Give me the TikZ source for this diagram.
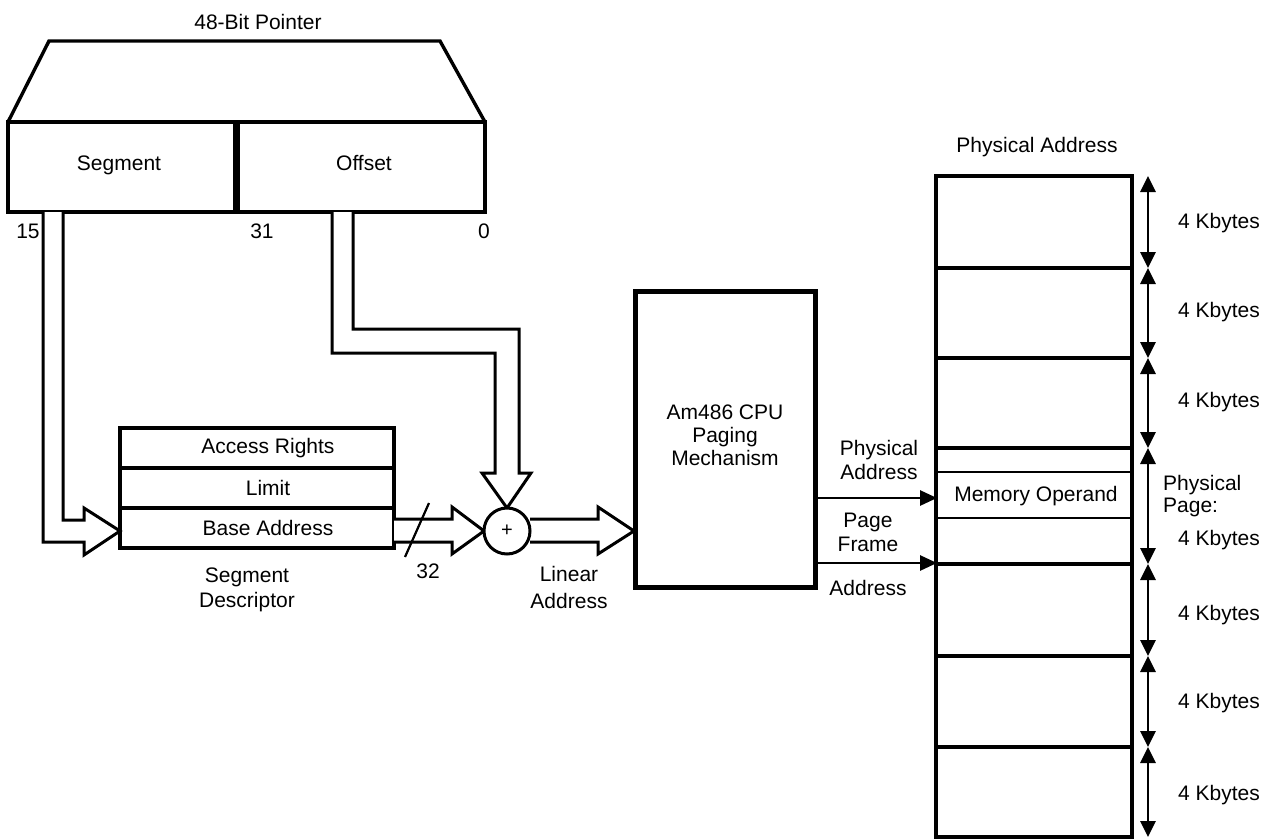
\documentclass[tikz,border=0pt]{standalone}
\usepackage{fontspec}
\setmainfont{Liberation Sans}
\usetikzlibrary{arrows.meta}
\begin{document}
\begin{tikzpicture}[x=1pt,y=-1pt,
  txt/.style={font=\fontsize{21}{24}\selectfont, inner sep=0pt, align=center},
  boxline/.style={draw, line width=3.4pt},
  hollow/.style={draw, fill=white, line width=3pt, line join=miter},
  thinarrow/.style={line width=2.8pt, -{Triangle[length=17pt,width=15pt]}},
  dimarrow/.style={line width=2.8pt, {Triangle[length=16pt,width=15pt]}-{Triangle[length=16pt,width=15pt]}}]
\useasboundingbox (0,0) rectangle (1272,840);

% ---- 48-bit pointer ----
\node[txt] (ptrtitle) at (258,22) {48-Bit Pointer};
\draw[boxline, line join=miter] (8,122) -- (49,41) -- (440,41) -- (485,122);
\draw[boxline] (8,122) rectangle (485,212);
\draw[line width=7pt] (236,122) -- (236,212);
\node[txt, anchor=base] (seg) at (119,171) {Segment};
\node[txt, anchor=base] (off) at (364,171) {Offset};
\node[txt] (b15) at (28,231) {15};
\node[txt] (b31) at (262,231) {31};
\node[txt] (b0) at (484,231) {0};

% ---- segment descriptor ----
\draw[boxline] (120,428) rectangle (394,548);
\draw[line width=3.4pt] (120,468) -- (394,468);
\draw[line width=3.4pt] (120,508) -- (394,508);
\node[txt] (acc) at (268,448) {Access Rights};
\node[txt] (lim) at (268,488) {Limit};
\node[txt] (base) at (268,528) {Base Address};
\node[txt, font=\fontsize{21}{25}\selectfont] (segdesc) at (247,590) {Segment\\Descriptor};

% ---- hollow arrows ----
% segment -> descriptor
\draw[hollow] (43,212) -- (43,542) -- (84,542) -- (84,555) -- (120,531)
  -- (84,508) -- (84,520) -- (63,520) -- (63,212);
% offset -> adder
\draw[hollow] (332,212) -- (332,353) -- (495,353) -- (495,473) -- (482,473)
  -- (507,508) -- (531,473) -- (519,473) -- (519,329) -- (353,329) -- (353,212);
% base -> adder
\draw[hollow] (394,519) -- (452,519) -- (452,507) -- (484,531) -- (452,554)
  -- (452,542) -- (394,542);
% adder -> cpu
\draw[hollow] (530,519) -- (598,519) -- (598,507) -- (634,531) -- (598,554)
  -- (598,542) -- (530,542);

% adder
\node[draw, circle, line width=3pt, minimum size=46pt, inner sep=0pt, fill=white,
  font=\fontsize{20}{22}\selectfont] (add) at (507,531) {+};

% bus width slash
\draw[line width=2.2pt] (429,503) -- (405,557);
\node[txt] (w32) at (428,571) {32};
\node[txt, font=\fontsize{21}{27}\selectfont] (lin) at (569,587) {Linear\\Address};

% ---- CPU ----
\draw[draw, line width=5pt] (635,291) rectangle (815,587);
\node[txt, font=\fontsize{21}{23}\selectfont] (cpu) at (725,435) {Am486 CPU\\Paging\\Mechanism};
\coordinate (cpuA) at (815,498);
\coordinate (cpuB) at (815,563);
\coordinate (memA) at (937,498);
\coordinate (memB) at (937,563);
\draw[thinarrow] (cpuA) -- (memA);
\draw[thinarrow] (cpuB) -- (memB);
\node[txt] (pa) at (879,460) {Physical\\Address};
\node[txt] (pf) at (868,532) {Page\\Frame};
\node[txt] (pfa) at (868,588) {Address};

% ---- memory ----
\node[txt] (memtitle) at (1037,147) {Physical Address};
\draw[boxline] (936,176) rectangle (1132,837);
\foreach \yy in {268,358,448,564,656,747}
  \draw[line width=3.4pt] (936,\yy) -- (1132,\yy);
\foreach \yy in {472,518}
  \draw[line width=2.4pt] (936,\yy) -- (1132,\yy);
\node[txt] (memop) at (1036,496) {Memory Operand};

% dimension arrows
\foreach \ya/\yb in {176/268,268/358,358/448,448/564,564/656,656/747,747/837}
  \draw[dimarrow] (1148,\ya) -- (1148,\yb);
\foreach \yy in {223,312,402,540,615,703,795}
  \node[txt] at (1219,\yy) {4 Kbytes};
\node[txt, anchor=west, align=left, font=\fontsize{21}{22}\selectfont] (ppage) at (1163,496) {Physical\\Page:};
\end{tikzpicture}
\end{document}
